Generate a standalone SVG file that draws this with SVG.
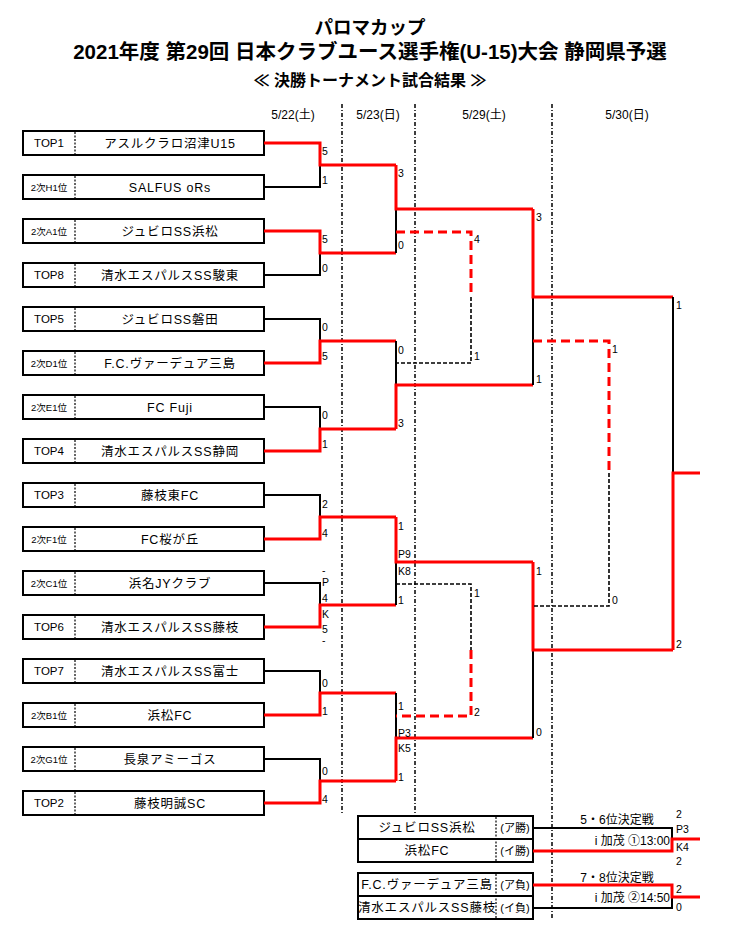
<svg xmlns="http://www.w3.org/2000/svg" width="740" height="942" viewBox="0 0 740 942">
<style>
text{font-family:"Liberation Sans","Noto Sans CJK JP",sans-serif;fill:#000}
.t{font-weight:bold;text-anchor:middle}
.box{fill:#fff;stroke:#000;stroke-width:2}
.div{stroke:#000;stroke-width:1.2;stroke-dasharray:2,1.5}
.sep{stroke:#000;stroke-width:1.5;stroke-dasharray:4,2,1,2;fill:none}
.nm{font-size:12.5px;text-anchor:middle;letter-spacing:0.8px}
.lb{font-size:11.5px;text-anchor:middle}
.lb2{font-size:9.5px;text-anchor:middle}
.s{font-size:10.5px}
.r{stroke:#f00;stroke-width:3;fill:none}
.k{stroke:#000;stroke-width:2;fill:none}
.rd{stroke:#f00;stroke-width:3;fill:none;stroke-dasharray:9,5}
.kd{stroke:#000;stroke-width:1.6;fill:none;stroke-dasharray:4,2}
</style>
<g id="title">
<text class="t" x="370" y="34" font-size="18.5">パロマカップ</text>
<text class="t" x="370" y="59" font-size="20.5">2021年度 第29回 日本クラブユース選手権(U-15)大会 静岡県予選</text>
<text class="t" x="370" y="86" font-size="16">≪ 決勝トーナメント試合結果 ≫</text>
</g>
<g id="dates" font-size="12">
<text x="293" y="119" text-anchor="middle">5/22(土)</text>
<text x="378" y="119" text-anchor="middle">5/23(日)</text>
<text x="484" y="119" text-anchor="middle">5/29(土)</text>
<text x="627" y="119" text-anchor="middle">5/30(日)</text>
</g>
<g id="separators">
<line class="sep" x1="342" y1="104" x2="342" y2="815"/>
<line class="sep" x1="415" y1="104" x2="415" y2="815"/>
<line class="sep" x1="552" y1="104" x2="552" y2="920"/>
</g>
<g id="teams">
<g id="t1"><rect class="box" x="23" y="131" width="241" height="24"/><line class="div" x1="75" y1="132" x2="75" y2="154"/><text class="lb" x="49" y="147">TOP1</text><text class="nm" x="170" y="148">アスルクラロ沼津U15</text></g>
<g id="t2"><rect class="box" x="23" y="175" width="241" height="24"/><line class="div" x1="75" y1="176" x2="75" y2="198"/><text class="lb2" x="49" y="191">2次H1位</text><text class="nm" x="170" y="192">SALFUS oRs</text></g>
<g id="t3"><rect class="box" x="23" y="219" width="241" height="24"/><line class="div" x1="75" y1="220" x2="75" y2="242"/><text class="lb2" x="49" y="235">2次A1位</text><text class="nm" x="170" y="236">ジュビロSS浜松</text></g>
<g id="t4"><rect class="box" x="23" y="263" width="241" height="24"/><line class="div" x1="75" y1="264" x2="75" y2="286"/><text class="lb" x="49" y="279">TOP8</text><text class="nm" x="170" y="280">清水エスパルスSS駿東</text></g>
<g id="t5"><rect class="box" x="23" y="307" width="241" height="24"/><line class="div" x1="75" y1="308" x2="75" y2="330"/><text class="lb" x="49" y="323">TOP5</text><text class="nm" x="170" y="324">ジュビロSS磐田</text></g>
<g id="t6"><rect class="box" x="23" y="351" width="241" height="24"/><line class="div" x1="75" y1="352" x2="75" y2="374"/><text class="lb2" x="49" y="367">2次D1位</text><text class="nm" x="170" y="368">F.C.ヴァーデュア三島</text></g>
<g id="t7"><rect class="box" x="23" y="395" width="241" height="24"/><line class="div" x1="75" y1="396" x2="75" y2="418"/><text class="lb2" x="49" y="411">2次E1位</text><text class="nm" x="170" y="412">FC Fuji</text></g>
<g id="t8"><rect class="box" x="23" y="439" width="241" height="24"/><line class="div" x1="75" y1="440" x2="75" y2="462"/><text class="lb" x="49" y="455">TOP4</text><text class="nm" x="170" y="456">清水エスパルスSS静岡</text></g>
<g id="t9"><rect class="box" x="23" y="483" width="241" height="24"/><line class="div" x1="75" y1="484" x2="75" y2="506"/><text class="lb" x="49" y="499">TOP3</text><text class="nm" x="170" y="500">藤枝東FC</text></g>
<g id="t10"><rect class="box" x="23" y="527" width="241" height="24"/><line class="div" x1="75" y1="528" x2="75" y2="550"/><text class="lb2" x="49" y="543">2次F1位</text><text class="nm" x="170" y="544">FC桜が丘</text></g>
<g id="t11"><rect class="box" x="23" y="571" width="241" height="24"/><line class="div" x1="75" y1="572" x2="75" y2="594"/><text class="lb2" x="49" y="587">2次C1位</text><text class="nm" x="170" y="588">浜名JYクラブ</text></g>
<g id="t12"><rect class="box" x="23" y="615" width="241" height="24"/><line class="div" x1="75" y1="616" x2="75" y2="638"/><text class="lb" x="49" y="631">TOP6</text><text class="nm" x="170" y="632">清水エスパルスSS藤枝</text></g>
<g id="t13"><rect class="box" x="23" y="659" width="241" height="24"/><line class="div" x1="75" y1="660" x2="75" y2="682"/><text class="lb" x="49" y="675">TOP7</text><text class="nm" x="170" y="676">清水エスパルスSS富士</text></g>
<g id="t14"><rect class="box" x="23" y="703" width="241" height="24"/><line class="div" x1="75" y1="704" x2="75" y2="726"/><text class="lb2" x="49" y="719">2次B1位</text><text class="nm" x="170" y="720">浜松FC</text></g>
<g id="t15"><rect class="box" x="23" y="747" width="241" height="24"/><line class="div" x1="75" y1="748" x2="75" y2="770"/><text class="lb2" x="49" y="763">2次G1位</text><text class="nm" x="170" y="764">長泉アミーゴス</text></g>
<g id="t16"><rect class="box" x="23" y="791" width="241" height="24"/><line class="div" x1="75" y1="792" x2="75" y2="814"/><text class="lb" x="49" y="807">TOP2</text><text class="nm" x="170" y="808">藤枝明誠SC</text></g>
</g>
<g id="placement">
<rect class="box" x="358" y="816" width="175" height="46"/><line x1="358" y1="839" x2="533" y2="839" stroke="#000" stroke-width="2"/><line class="div" x1="496" y1="817" x2="496" y2="861"/>
<text class="nm" x="427" y="832" font-size="11.5">ジュビロSS浜松</text><text x="515" y="832" font-size="11" text-anchor="middle">(ア勝)</text>
<text class="nm" x="427" y="855" font-size="11.5">浜松FC</text><text x="515" y="855" font-size="11" text-anchor="middle">(イ勝)</text>
<rect class="box" x="358" y="873" width="175" height="46"/><line x1="358" y1="896" x2="533" y2="896" stroke="#000" stroke-width="2"/><line class="div" x1="496" y1="874" x2="496" y2="918"/>
<text class="nm" x="427" y="889" font-size="11" letter-spacing="0">F.C.ヴァーデュア三島</text><text x="515" y="889" font-size="11" text-anchor="middle">(ア負)</text>
<text class="nm" x="427" y="912" font-size="11" letter-spacing="0">清水エスパルスSS藤枝</text><text x="515" y="912" font-size="11" text-anchor="middle">(イ負)</text>
<text x="617" y="824" font-size="12" text-anchor="middle">5・6位決定戦</text>
<text x="670" y="845" font-size="12" text-anchor="end">i 加茂 ①13:00</text>
<text x="617" y="882" font-size="12" text-anchor="middle">7・8位決定戦</text>
<text x="670" y="902" font-size="12" text-anchor="end">i 加茂 ②14:50</text>
</g>
<g id="connectors">
<path class="k" d="M264,187H320V165"/><path class="r" d="M264,143H320V165H396"/>
<path class="k" d="M264,275H320V253"/><path class="r" d="M264,231H320V253H396"/>
<path class="k" d="M264,319H320V341"/><path class="r" d="M264,363H320V341H396"/>
<path class="k" d="M264,407H320V429"/><path class="r" d="M264,451H320V429H396"/>
<path class="k" d="M264,495H320V517"/><path class="r" d="M264,539H320V517H396"/>
<path class="k" d="M264,583H320V605"/><path class="r" d="M264,627H320V605H396"/>
<path class="k" d="M264,671H320V693"/><path class="r" d="M264,715H320V693H396"/>
<path class="k" d="M264,759H320V781"/><path class="r" d="M264,803H320V781H396"/>
<path class="k" d="M396,209V253"/><path class="r" d="M396,165V209H533"/>
<path class="k" d="M396,341V385"/><path class="r" d="M396,429V385H533"/>
<path class="k" d="M396,562V605"/><path class="r" d="M396,517V562H533"/>
<path class="k" d="M396,693V738"/><path class="r" d="M396,781V738H533"/>
<path class="rd" d="M396,232H471V297"/><path class="kd" d="M471,297V363H396"/>
<path class="kd" d="M396,584H471V650"/><path class="rd" d="M471,650V716H396"/>
<path class="k" d="M533,297V385"/><path class="r" d="M533,209V297H673"/>
<path class="k" d="M533,650V738"/><path class="r" d="M533,562V650H673"/>
<path class="rd" d="M533,341H609V473"/><path class="kd" d="M609,473V606H533"/>
<path class="k" d="M673,297V473"/><path class="r" d="M673,650V473H700"/>
<path class="k" d="M533,828H672V851"/><path class="r" d="M533,851H672V839H700"/>
<path class="k" d="M533,908H672V897"/><path class="r" d="M533,885H672V897H700"/>
</g>
<g id="scores" class="s">
<text x="322" y="155">5</text><text x="322" y="184">1</text>
<text x="322" y="243">5</text><text x="322" y="272">0</text>
<text x="322" y="331">0</text><text x="322" y="360">5</text>
<text x="322" y="419">0</text><text x="322" y="448">1</text>
<text x="322" y="508">2</text><text x="322" y="537">4</text>
<text x="322" y="574" fill="#39f">-</text><text x="322" y="586">P</text><text x="322" y="602">4</text><text x="322" y="618">K</text><text x="322" y="633">5</text><text x="322" y="644" fill="#39f">-</text>
<text x="322" y="687">0</text><text x="322" y="715">1</text>
<text x="322" y="775">0</text><text x="322" y="803">4</text>
<text x="398" y="177">3</text><text x="398" y="249">0</text>
<text x="398" y="354">0</text><text x="398" y="427">3</text>
<text x="398" y="530">1</text><text x="398" y="558">P9</text><text x="398" y="575">K8</text><text x="398" y="604">1</text>
<text x="398" y="710">1</text><text x="398" y="737">P3</text><text x="398" y="752">K5</text><text x="398" y="781">1</text>
<text x="474" y="243">4</text><text x="474" y="360">1</text>
<text x="474" y="597">1</text><text x="474" y="716">2</text>
<text x="536" y="221">3</text><text x="536" y="383">1</text>
<text x="536" y="575">1</text><text x="536" y="736">0</text>
<text x="612" y="353">1</text><text x="612" y="604">0</text>
<text x="676" y="309">1</text><text x="676" y="648">2</text>
<text x="676" y="818">2</text><text x="676" y="833">P3</text><text x="676" y="851">K4</text><text x="676" y="865">2</text>
<text x="676" y="893">2</text><text x="676" y="911">0</text>
</g>
</svg>
